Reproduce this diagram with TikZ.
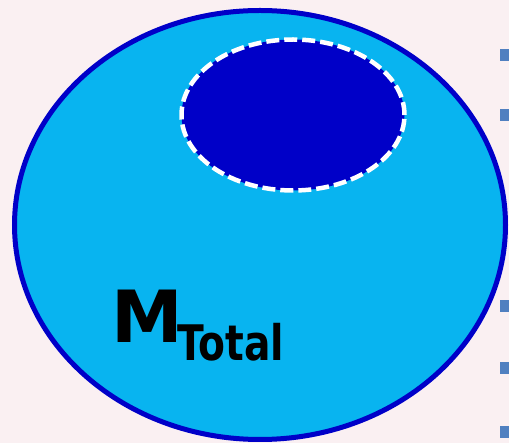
\documentclass[tikz,border=0pt]{standalone}
\usepackage{fontspec}
\setmainfont{DejaVu Sans}
\usetikzlibrary{shapes.geometric}
\definecolor{bg}{HTML}{FAF0F2}
\definecolor{cellblue}{HTML}{08B4F0}
\definecolor{rimblue}{HTML}{0000C8}
\definecolor{coreblue}{HTML}{0000C8}
\definecolor{bulletblue}{HTML}{5080C0}
\tikzset{
  bulletsq/.style={rectangle, fill=bulletblue, minimum size=12pt, inner sep=0pt},
  labeltext/.style={anchor=base west, inner sep=0pt, text=black}
}
\begin{document}
\begin{tikzpicture}[x=1pt,y=-1pt]
\fill[bg] (0,0) rectangle (509,443);
\useasboundingbox (0,0) rectangle (509,443);
\node[ellipse, draw=rimblue, fill=cellblue, line width=5pt, minimum width=491pt, minimum height=429pt, inner sep=0pt] (outer) at (260,225) {};
\node[ellipse, draw=white, fill=coreblue, line width=4.5pt, dash pattern=on 13pt off 5pt, minimum width=223pt, minimum height=151pt, inner sep=0pt] (inner) at (293,115) {};
\node[labeltext, font=\bfseries\fontsize{72}{72}\selectfont] (m) at (111,343) {M};
\node[labeltext, font=\bfseries\fontsize{49}{49}\selectfont] (total) at (177,361) {\scalebox{0.8}[1]{Total}};
\node[bulletsq] (b1) at (506,55) {};
\node[bulletsq] (b2) at (506,115) {};
\node[bulletsq] (b3) at (506,306) {};
\node[bulletsq] (b4) at (506,368) {};
\node[bulletsq] (b5) at (506,432) {};
\end{tikzpicture}
\end{document}
